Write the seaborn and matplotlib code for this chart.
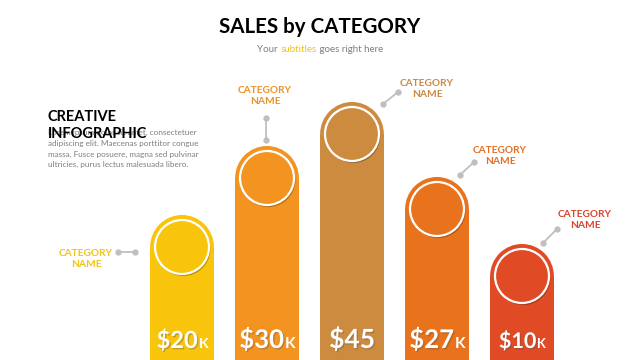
import pandas as pd
import matplotlib
matplotlib.use("Agg")
import matplotlib.pyplot as plt
import matplotlib.patheffects as pe
from matplotlib.patches import Ellipse
from matplotlib.transforms import offset_copy
import seaborn as sns

# ---- data ----
cat_ids = ["cat1", "cat2", "cat3", "cat4", "cat5"]
cat_names = ["CATEGORY\nNAME"] * 5
sales_k = [20, 30, 45, 27, 10]
value_labels = ["$20", "$30", "$45", "$27", "$10"]
value_suffix = ["K", "K", "", "K", "K"]
bar_heights = [145, 214, 258, 183, 116]   # drawn pill heights (the pills are not to scale)

# ---- styling ----
bar_colors = ["#F9C40C", "#F39320", "#CD8B40", "#E9721C", "#E04A24"]
label_colors = ["#F2C318", "#EE9226", "#C98A45", "#E27026", "#D9452C"]
value_sizes = [17, 18.5, 19, 18.5, 15.5]
GREY = "#BFBFBF"
SPACING = 85.0   # px between bar centres
R = 32           # cap radius (y units == px)

# connector start/end and label offsets, px relative to (bar centre, pill top)
conn = [((-64, -37), (-47, -37)), ((-1, 6), (-1, 28)), ((31, -2), (46, 10)),
        ((23, 2), (37, 15)), ((21, 1), (35, 15))]
label_off = [(-96, -44), (-2, 50), (75, 13), (63, 21), (63, 24)]

sns.set_theme(style="white")
plt.rcParams["font.family"] = ["Lato", "DejaVu Sans"]

fig = plt.figure(figsize=(6.4, 3.6), dpi=100)
fig.patch.set_facecolor("white")
ax = fig.add_axes([139.5 / 640, 0, 5 * SPACING / 640, 1])

df = pd.DataFrame({"cat": cat_ids, "body": [h - R for h in bar_heights]})
sns.barplot(data=df, x="cat", y="body", hue="cat", palette=bar_colors,
            width=0.75, saturation=1, legend=False, linewidth=0, ax=ax)
ax.set_xlim(-0.5, 4.5)
ax.set_ylim(0, 360)
ax.axis("off")

shadow = [pe.SimplePatchShadow(offset=(1.0, -1.5), shadow_rgbFace="black", alpha=0.25), pe.Normal()]

for i, h in enumerate(bar_heights):
    cy = h - R
    ax.add_patch(Ellipse((i, cy), 0.75, 2 * R, facecolor=bar_colors[i], edgecolor="none"))
    ax.add_patch(Ellipse((i, cy), 2 * 27 / SPACING, 54, facecolor=bar_colors[i],
                         edgecolor="white", lw=1.6, path_effects=shadow, zorder=3))

    # connector with dots
    (x0, y0), (x1, y1) = conn[i]
    xs = [i + x0 / SPACING, i + x1 / SPACING]
    ys = [h + y0, h + y1]
    ax.plot(xs, ys, color=GREY, lw=1.3, marker="o", ms=3.5, clip_on=False)
    lx, ly = label_off[i]
    ax.text(i + lx / SPACING, h + ly, cat_names[i], ha="center", va="center",
            fontsize=7.3, fontweight="bold", color=label_colors[i], linespacing=1.15)

# value labels with smaller K
fig.canvas.draw()
renderer = fig.canvas.get_renderer()
for i in range(5):
    main = ax.text(i, 12, value_labels[i], ha="center", va="baseline", color="white",
                   fontsize=value_sizes[i], fontweight="bold")
    if value_suffix[i]:
        k = ax.text(i, 12, value_suffix[i], ha="left", va="baseline", color="white",
                    fontsize=value_sizes[i] * 0.6, fontweight="bold")
        wm = main.get_window_extent(renderer).width
        wk = k.get_window_extent(renderer).width
        main.set_transform(offset_copy(ax.transData, fig, x=-wk / 2, units="dots"))
        k.set_transform(offset_copy(ax.transData, fig, x=wm / 2 - wk / 2 + 1, units="dots"))
    main.set_path_effects([pe.SimplePatchShadow(offset=(1, -1), alpha=0.3), pe.Normal()])

# titles
fig.text(0.5, 1 - 27 / 360, "SALES by CATEGORY", ha="center", va="center",
         fontsize=14.8, fontweight="bold", color="black")
pieces = [("Your ", "#7F7F7F"), ("subtitles", "#F2C318"), (" goes right here", "#7F7F7F")]
objs = [fig.text(0, 1 - 50 / 360, s, fontsize=7, color=c, va="center", ha="left") for s, c in pieces]
fig.canvas.draw()
widths = [o.get_window_extent(renderer).width for o in objs]
x = 320 - sum(widths) / 2
for o, w in zip(objs, widths):
    o.set_x(x / 640)
    x += w

# left block
fig.text(48 / 640, 1 - 129 / 360,
         "Lorem ipsum dolor sit amet, consectetuer\nadipiscing elit. Maecenas porttitor congue\n"
         "massa. Fusce posuere, magna sed pulvinar\nultricies, purus lectus malesuada libero.",
         ha="left", va="top", fontsize=5.9, color="#7F7F7F", linespacing=1.62)
fig.text(48 / 640, 1 - 138 / 360, "CREATIVE\nINFOGRAPHIC", ha="left", va="baseline",
         fontsize=10.5, fontweight="bold", color="black", linespacing=1.25)

fig.savefig("out.png", dpi=100)
